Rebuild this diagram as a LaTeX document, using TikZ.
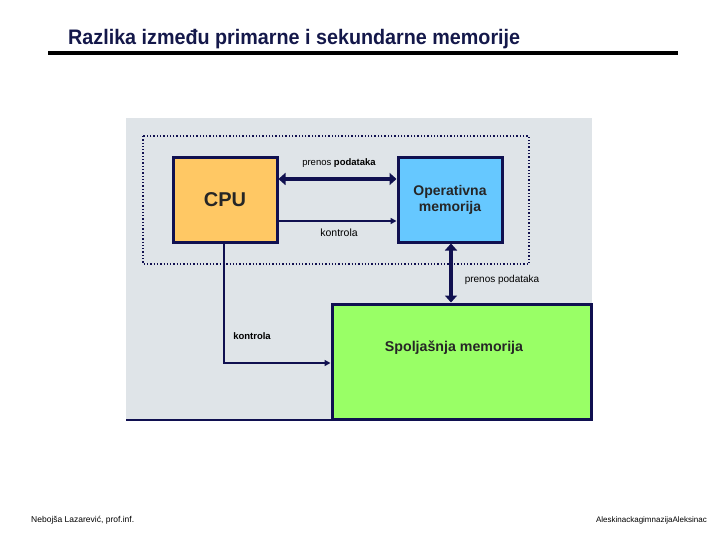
\documentclass[tikz,border=0pt]{standalone}
\usepackage{fontspec}
\setmainfont{Liberation Sans}
\usetikzlibrary{arrows.meta}
\definecolor{navy}{HTML}{101050}
\definecolor{titlec}{HTML}{14184A}
\definecolor{panel}{HTML}{DFE4E8}
\definecolor{cpuc}{HTML}{FFC864}
\definecolor{omc}{HTML}{66C8FF}
\definecolor{smc}{HTML}{99FF66}
\tikzset{
  box/.style={draw=navy, line width=3pt, inner sep=0pt, font=\bfseries},
  thick arr/.style={navy, line width=4pt, {Triangle[length=7pt,width=12pt]}-{Triangle[length=7pt,width=12pt]}},
  thin arr/.style={navy, line width=1.6pt, -{Triangle[length=6pt,width=6pt]}},
  lbl/.style={font=\fontsize{9.5}{11}\selectfont, text=black, inner sep=1pt}
}
\begin{document}
\begin{tikzpicture}[x=1pt,y=-1pt]
\useasboundingbox (0,0) rectangle (720,540);
% title
\node[anchor=base west, font=\bfseries\fontsize{21}{24}\selectfont, text=titlec, inner sep=0pt] (title) at (68,45) {\scalebox{0.94}[1]{Razlika između primarne i sekundarne memorije}};
\draw[black, line width=4pt] (48,53.5) coordinate (ul1) -- (678,53.5) coordinate (ul2);
% panel
\fill[panel] (126,118) rectangle (592,420);
\draw[navy, line width=2pt] (126,420) -- (333,420);
\draw[navy, line width=1.3pt, dotted] (143,136) rectangle (529,264);
% boxes
\node[box, fill=cpuc, minimum width=104pt, minimum height=84pt, font=\bfseries\fontsize{20}{24}\selectfont, text=black!85] (cpu) at (225,200) {CPU};
\node[box, fill=omc, minimum width=104pt, minimum height=84pt, align=center, font=\bfseries\fontsize{14}{16}\selectfont, text=black!85] (om) at (450,200) {Operativna\\memorija};
\node[box, fill=smc, minimum width=259pt, minimum height=115pt] (sm) at (461.5,361.5) {};
\node[font=\bfseries\fontsize{14.2}{17}\selectfont, text=black!85] (smt) at (454,348) {Spoljašnja memorija};
% connectors
\draw[thick arr] (cpu.east |- 0,179) -- (om.west |- 0,179);
\node[lbl] (l1) at (339,163) {prenos \textbf{podataka}};
\draw[thin arr] (cpu.east |- 0,221) -- (om.west |- 0,221);
\node[lbl, font=\fontsize{10.5}{12}\selectfont] (l2) at (339,233) {kontrola};
\draw[thick arr] (om.south -| 451,0) -- (sm.north -| 451,0);
\node[lbl, font=\fontsize{10}{12}\selectfont] (l3) at (502,280) {prenos podataka};
\coordinate (bend) at (224,363);
\draw[thin arr] (cpu.south -| 224,0) -- (bend) -- (sm.west |- bend);
\node[lbl, font=\bfseries\fontsize{9.5}{11}\selectfont] (l4) at (252,336) {kontrola};
% footer
\node[anchor=west, font=\fontsize{8.5}{10}\selectfont, inner sep=0pt] (f1) at (31,520) {Nebojša Lazarević, prof.inf.};
\node[anchor=east, font=\fontsize{8}{10}\selectfont, inner sep=0pt] (f2) at (707,520) {AleskinackagimnazijaAleksinac};
\end{tikzpicture}
\end{document}
